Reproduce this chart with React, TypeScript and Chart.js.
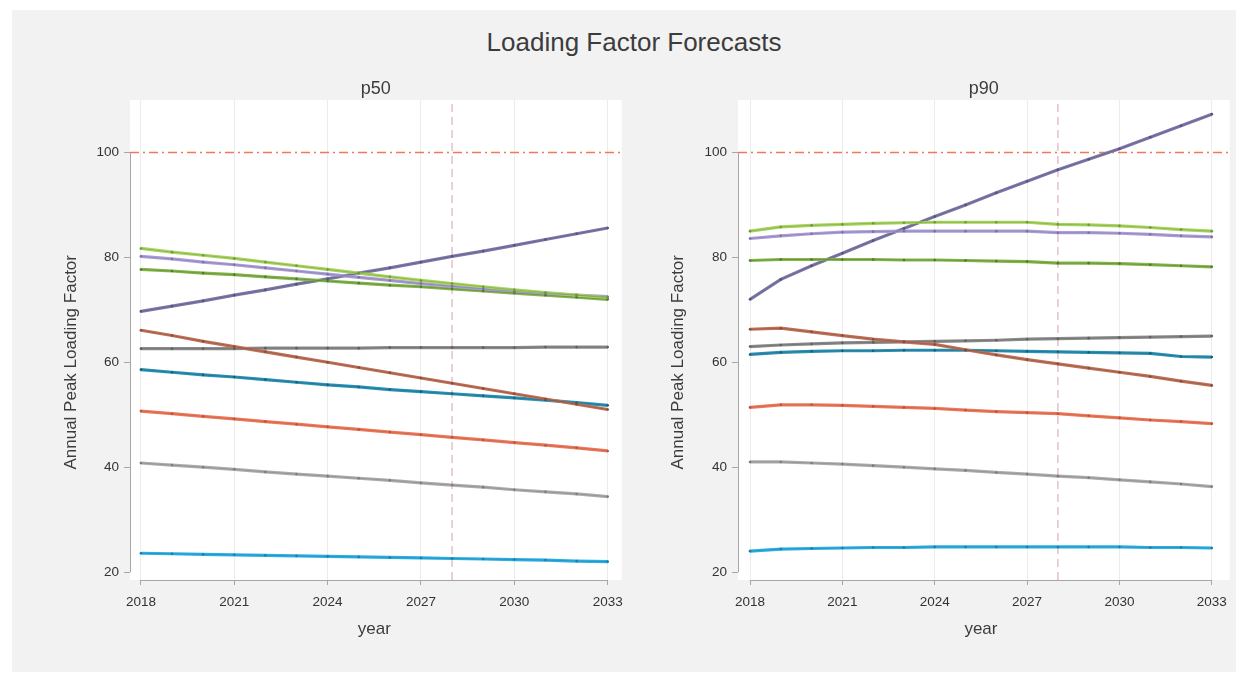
import React, { useEffect, useRef } from "react";
import { Chart, registerables } from "chart.js";

Chart.register(...registerables);

// ---------------- data ----------------
const YEARS = [2018, 2019, 2020, 2021, 2022, 2023, 2024, 2025, 2026, 2027, 2028, 2029, 2030, 2031, 2032, 2033];
const X_TICKS = [2018, 2021, 2024, 2027, 2030, 2033];
const Y_TICKS = [20, 40, 60, 80, 100];
const THRESHOLD = 100;
const FORECAST_START = 2028;
const MAIN_TITLE = "Loading Factor Forecasts";
const PANEL_TITLES = ["p50", "p90"];
const Y_TITLE = "Annual Peak Loading Factor";
const X_TITLE = "year";

// p50 panel
const P50_S1 = [81.7, 81.0, 80.4, 79.8, 79.1, 78.4, 77.7, 77.0, 76.3, 75.6, 75.0, 74.4, 73.8, 73.3, 72.8, 72.3];
const P50_S2 = [80.2, 79.7, 79.1, 78.6, 78.0, 77.4, 76.8, 76.2, 75.6, 75.0, 74.5, 74.0, 73.5, 73.1, 72.8, 72.5];
const P50_S3 = [77.7, 77.4, 77.0, 76.7, 76.3, 75.9, 75.5, 75.1, 74.7, 74.4, 74.0, 73.6, 73.2, 72.8, 72.4, 72.0];
const P50_S4 = [69.7, 70.7, 71.7, 72.8, 73.8, 74.9, 75.9, 77.0, 78.0, 79.1, 80.2, 81.2, 82.3, 83.4, 84.5, 85.6];
const P50_S5 = [66.1, 65.1, 64.0, 63.0, 62.0, 61.0, 60.0, 59.0, 58.0, 57.0, 56.0, 55.0, 54.0, 53.0, 52.0, 51.0];
const P50_S6 = [62.6, 62.6, 62.6, 62.6, 62.7, 62.7, 62.7, 62.7, 62.8, 62.8, 62.8, 62.8, 62.8, 62.9, 62.9, 62.9];
const P50_S7 = [58.6, 58.1, 57.6, 57.2, 56.7, 56.2, 55.7, 55.3, 54.8, 54.4, 54.0, 53.6, 53.2, 52.8, 52.3, 51.8];
const P50_S8 = [50.7, 50.2, 49.7, 49.2, 48.7, 48.2, 47.7, 47.2, 46.7, 46.2, 45.7, 45.2, 44.7, 44.2, 43.7, 43.1];
const P50_S9 = [40.8, 40.4, 40.0, 39.6, 39.1, 38.7, 38.3, 37.9, 37.5, 37.0, 36.6, 36.2, 35.7, 35.3, 34.9, 34.4];
const P50_S10 = [23.6, 23.5, 23.4, 23.3, 23.2, 23.1, 23.0, 22.9, 22.8, 22.7, 22.6, 22.5, 22.4, 22.3, 22.1, 22.0];

// p90 panel
const P90_S1 = [85.0, 85.8, 86.1, 86.3, 86.5, 86.6, 86.7, 86.7, 86.7, 86.7, 86.3, 86.2, 86.0, 85.7, 85.3, 85.0];
const P90_S2 = [83.6, 84.1, 84.5, 84.8, 84.9, 85.0, 85.0, 85.0, 85.0, 85.0, 84.7, 84.7, 84.6, 84.4, 84.1, 83.9];
const P90_S3 = [79.4, 79.6, 79.6, 79.6, 79.6, 79.5, 79.5, 79.4, 79.3, 79.2, 78.9, 78.9, 78.8, 78.6, 78.4, 78.2];
const P90_S4 = [72.0, 75.8, 78.4, 80.8, 83.2, 85.5, 87.8, 90.0, 92.3, 94.5, 96.7, 98.7, 100.7, 102.9, 105.1, 107.3];
const P90_S5 = [66.3, 66.5, 65.8, 65.1, 64.4, 63.9, 63.4, 62.4, 61.4, 60.5, 59.7, 58.9, 58.1, 57.3, 56.4, 55.6];
const P90_S6 = [63.0, 63.3, 63.5, 63.7, 63.8, 63.9, 64.0, 64.1, 64.2, 64.4, 64.5, 64.6, 64.7, 64.8, 64.9, 65.0];
const P90_S7 = [61.5, 61.9, 62.1, 62.2, 62.2, 62.3, 62.3, 62.3, 62.2, 62.1, 62.0, 61.9, 61.8, 61.7, 61.1, 61.0];
const P90_S8 = [51.4, 51.9, 51.9, 51.8, 51.6, 51.4, 51.2, 50.9, 50.6, 50.4, 50.2, 49.8, 49.4, 49.0, 48.7, 48.3];
const P90_S9 = [41.0, 41.0, 40.8, 40.6, 40.3, 40.0, 39.7, 39.4, 39.0, 38.7, 38.3, 38.0, 37.6, 37.2, 36.8, 36.3];
const P90_S10 = [24.0, 24.4, 24.5, 24.6, 24.7, 24.7, 24.8, 24.8, 24.8, 24.8, 24.8, 24.8, 24.8, 24.7, 24.7, 24.6];

const P50_SERIES = [P50_S1, P50_S2, P50_S3, P50_S4, P50_S5, P50_S6, P50_S7, P50_S8, P50_S9, P50_S10];
const P90_SERIES = [P90_S1, P90_S2, P90_S3, P90_S4, P90_S5, P90_S6, P90_S7, P90_S8, P90_S9, P90_S10];

// ---------------- styles ----------------
const LINE_COLORS = ["#a9d55f", "#ab9fd6", "#86b64c", "#7d7aa8", "#bf7259", "#8c8c8c", "#2b93b5", "#ee7a5c", "#adadad", "#2db0e4"];
const DARK_COLORS = ["#6f9a3a", "#7c72a6", "#4f7a2c", "#55527c", "#874c3a", "#606060", "#1d5f78", "#b55540", "#7c7c7c", "#1e7ca6"];
const FONT = "'Liberation Sans', Arial, Helvetica, sans-serif";

type PanelGeom = {
  left: number;
  top: number;
  width: number;
  height: number;
  yAxisWidth: number;
  padRight: number;
  xMin: number;
  xMax: number;
  yTitleX: number;
};

const Y_MIN = 18.5;
const Y_MAX = 110;

const decoPlugin = {
  id: "panelDeco",
  beforeDraw(chart: any) {
    const { ctx, chartArea } = chart;
    ctx.save();
    ctx.fillStyle = "#ffffff";
    ctx.fillRect(chartArea.left, chartArea.top, chartArea.right - chartArea.left, chartArea.bottom - chartArea.top);
    ctx.restore();
  },
  beforeDatasetsDraw(chart: any) {
    const { ctx, chartArea, scales } = chart;
    const xs = scales.x;
    const ys = scales.y;
    ctx.save();
    ctx.strokeStyle = "#a6a6a6";
    ctx.lineWidth = 1;
    ctx.beginPath();
    const yb = Math.round(chartArea.bottom) + 0.5;
    ctx.moveTo(xs.getPixelForValue(X_TICKS[0]), yb);
    ctx.lineTo(xs.getPixelForValue(X_TICKS[X_TICKS.length - 1]), yb);
    const xl = Math.round(chartArea.left) + 0.5;
    ctx.moveTo(xl, ys.getPixelForValue(Y_TICKS[0]));
    ctx.lineTo(xl, ys.getPixelForValue(Y_TICKS[Y_TICKS.length - 1]));
    ctx.stroke();
    ctx.restore();
  },
  afterDraw(chart: any, _args: any, opts: any) {
    const { ctx, chartArea, scales } = chart;
    const xs = scales.x;
    const ys = scales.y;
    ctx.save();
    ctx.fillStyle = "#3c3c3c";
    ctx.textAlign = "center";
    ctx.textBaseline = "middle";
    ctx.font = `18px ${FONT}`;
    ctx.fillText(opts.title, (chartArea.left + chartArea.right) / 2, chartArea.top - 11);
    ctx.font = `17px ${FONT}`;
    const xMid = (xs.getPixelForValue(X_TICKS[0]) + xs.getPixelForValue(X_TICKS[X_TICKS.length - 1])) / 2;
    ctx.fillText(X_TITLE, xMid, chartArea.bottom + 49);
    const yMid = (ys.getPixelForValue(Y_TICKS[0]) + ys.getPixelForValue(Y_TICKS[Y_TICKS.length - 1])) / 2;
    ctx.translate(opts.yTitleX, yMid);
    ctx.rotate(-Math.PI / 2);
    ctx.fillText(Y_TITLE, 0, 0);
    ctx.restore();
  },
};

function Panel({ title, series, geom }: { title: string; series: number[][]; geom: PanelGeom }) {
  const ref = useRef<HTMLCanvasElement | null>(null);
  useEffect(() => {
    if (!ref.current) return;
    const datasets: any[] = [];
    series.forEach((vals, i) => {
      const pts = YEARS.map((yr, j) => ({ x: yr, y: vals[j] }));
      datasets.push({
        label: `${title} series ${i + 1}`,
        data: pts,
        borderColor: LINE_COLORS[i],
        borderWidth: 3.2,
        pointRadius: 0,
        tension: 0,
        order: 10,
      });
      datasets.push({
        label: `${title} series ${i + 1} markers`,
        data: pts,
        borderColor: DARK_COLORS[i] + "99",
        borderWidth: 0.8,
        pointRadius: 1.3,
        pointBackgroundColor: DARK_COLORS[i],
        pointBorderWidth: 0,
        tension: 0,
        order: 5,
      });
    });
    datasets.push({
      label: "threshold",
      data: [
        { x: geom.xMin, y: THRESHOLD },
        { x: geom.xMax, y: THRESHOLD },
      ],
      borderColor: "#ea7a58",
      borderWidth: 1.6,
      borderDash: [9, 4, 2, 4],
      pointRadius: 0,
      order: 50,
    });
    datasets.push({
      label: "forecast start",
      data: [
        { x: FORECAST_START, y: Y_MIN },
        { x: FORECAST_START, y: Y_MAX },
      ],
      borderColor: "#e2bcc4",
      borderWidth: 1.4,
      borderDash: [8, 5],
      pointRadius: 0,
      order: 60,
    });

    const chart = new Chart(ref.current, {
      type: "line",
      data: { datasets },
      plugins: [decoPlugin as any],
      options: {
        animation: false,
        responsive: false,
        devicePixelRatio: 1,
        layout: { padding: { top: 40, right: geom.padRight, left: 0, bottom: 0 } },
        plugins: {
          legend: { display: false },
          tooltip: { enabled: false },
          panelDeco: { title, yTitleX: geom.yTitleX },
        } as any,
        scales: {
          x: {
            type: "linear",
            min: geom.xMin,
            max: geom.xMax,
            afterBuildTicks: (s: any) => {
              s.ticks = X_TICKS.map((v) => ({ value: v }));
            },
            afterFit: (s: any) => {
              s.height = 92;
            },
            grid: {
              display: true,
              drawOnChartArea: true,
              drawTicks: true,
              tickLength: 5,
              color: "#ececec",
              tickColor: "#a6a6a6",
              lineWidth: 1,
            },
            border: { display: false },
            ticks: {
              font: { family: FONT, size: 13.5 },
              color: "#333333",
              padding: 9,
              maxRotation: 0,
              autoSkip: false,
              callback: (v: any) => String(v),
            },
          },
          y: {
            type: "linear",
            min: Y_MIN,
            max: Y_MAX,
            afterBuildTicks: (s: any) => {
              s.ticks = Y_TICKS.map((v) => ({ value: v }));
            },
            afterFit: (s: any) => {
              s.width = geom.yAxisWidth;
            },
            grid: {
              display: true,
              drawOnChartArea: false,
              drawTicks: true,
              tickLength: 6,
              tickColor: "#a6a6a6",
            },
            border: { display: false },
            ticks: {
              font: { family: FONT, size: 13.5 },
              color: "#333333",
              padding: 5,
              autoSkip: false,
              callback: (v: any) => String(v),
            },
          },
        },
      },
    });
    return () => chart.destroy();
  }, [title, series, geom]);

  return (
    <canvas
      ref={ref}
      width={geom.width}
      height={geom.height}
      style={{ position: "absolute", left: geom.left, top: geom.top, width: geom.width, height: geom.height }}
    />
  );
}

const LEFT_GEOM: PanelGeom = {
  left: 12,
  top: 60,
  width: 620,
  height: 612,
  yAxisWidth: 118,
  padRight: 10,
  xMin: 2017.65,
  xMax: 2033.45,
  yTitleX: 59,
};

const RIGHT_GEOM: PanelGeom = {
  left: 632,
  top: 60,
  width: 604,
  height: 612,
  yAxisWidth: 106,
  padRight: 4,
  xMin: 2017.61,
  xMax: 2033.58,
  yTitleX: 46,
};

export default function App() {
  return (
    <div style={{ position: "fixed", left: 0, top: 0, width: 1248, height: 682, background: "#ffffff" }}>
      <div style={{ position: "absolute", left: 12, top: 10, width: 1224, height: 662, background: "#f2f2f2" }} />
      <div
        style={{
          position: "absolute",
          left: 20,
          top: 27,
          width: 1228,
          textAlign: "center",
          fontFamily: FONT,
          fontSize: 26,
          lineHeight: "30px",
          color: "#3c3c3c",
        }}
      >
        {MAIN_TITLE}
      </div>
      <Panel title={PANEL_TITLES[0]} series={P50_SERIES} geom={LEFT_GEOM} />
      <Panel title={PANEL_TITLES[1]} series={P90_SERIES} geom={RIGHT_GEOM} />
    </div>
  );
}
